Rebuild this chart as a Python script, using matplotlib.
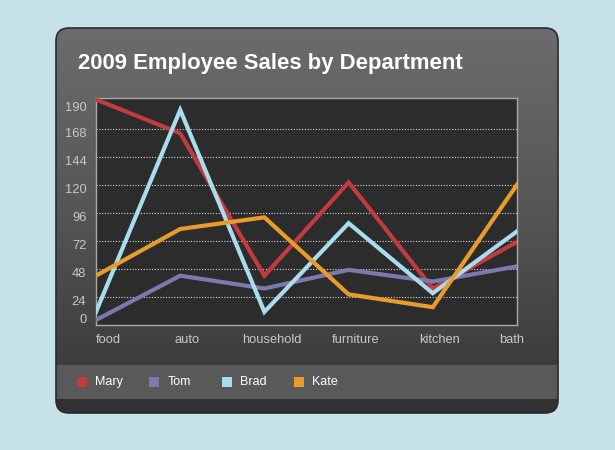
import matplotlib.pyplot as plt
import numpy as np
from matplotlib.patches import FancyBboxPatch, Rectangle
from matplotlib.colors import LinearSegmentedColormap
from matplotlib.transforms import ScaledTranslation

departments = ['food', 'auto', 'household', 'furniture', 'kitchen', 'bath']
mary = [193, 164, 42, 122, 31, 71]
tom = [4, 42, 31, 47, 37, 50]
brad = [11, 184, 11, 87, 27, 80]
kate = [42, 82, 92, 26, 15, 120]

names = ['Mary', 'Tom', 'Brad', 'Kate']
series = [mary, tom, brad, kate]
colors = ['#c23b40', '#7b79ad', '#a9dcec', '#e99b2c']
yticks = [0, 24, 48, 72, 96, 120, 144, 168, 190]

W, H = 615, 450
fig = plt.figure(figsize=(6.15, 4.5), dpi=100)
fig.patch.set_facecolor('#c6e1e8')

# card background
bg = fig.add_axes([0, 0, 1, 1])
bg.set_xlim(0, W)
bg.set_ylim(H, 0)
bg.axis('off')

card = FancyBboxPatch((56, 28), 502, 385, boxstyle='round,pad=0,rounding_size=13',
                      facecolor='none', edgecolor='#2a2a2c', linewidth=1.2, zorder=3)
bg.add_patch(card)
cmap = LinearSegmentedColormap.from_list('card', ['#6c6c6e', '#555455', '#363334'])
grad = np.linspace(0, 1, 256).reshape(-1, 1)
im = bg.imshow(grad, cmap=cmap, extent=(56, 558, 413, 28), aspect='auto', zorder=1)
im.set_clip_path(card)
band = Rectangle((56, 365), 502, 34, facecolor='#595959', edgecolor='none', zorder=2)
bg.add_patch(band)
band.set_clip_path(card)
foot = Rectangle((56, 399), 502, 15, facecolor='#323031', edgecolor='none', zorder=2)
bg.add_patch(foot)
foot.set_clip_path(card)

bg.text(78, 63, '2009 Employee Sales by Department', color='white', fontsize=15.9,
        fontweight='bold', family='Liberation Sans', va='center', ha='left', zorder=4)

# legend
for i, (n, c) in enumerate(zip(names, colors)):
    x0 = 77 + i * 72.3
    bg.add_patch(Rectangle((x0, 377), 10, 10, facecolor=c, edgecolor='none', zorder=4))
    bg.text(x0 + 18, 382, n, color='white', fontsize=9, family='Liberation Sans',
            va='center', ha='left', zorder=4)

# chart
ax = fig.add_axes([96 / W, 1 - 324.7 / H, 421 / W, 226.4 / H])
ax.set_facecolor('#2d2c2c')
x = np.arange(len(departments))
for s, c in zip(series, colors):
    ax.plot(x, s, color=c, linewidth=3, solid_joinstyle='miter', zorder=3)
for t in yticks[1:-1]:
    ax.axhline(t, color='#d8d8d8', linestyle=(0, (1, 1.5)), linewidth=0.8, zorder=1)
ax.set_xlim(0, len(departments) - 1)
ax.set_ylim(0, 194)
ax.set_yticks(yticks)
ax.set_yticklabels([str(t) for t in yticks])
ax.set_xticks(x)
ax.set_xticklabels(departments)
for sp in ax.spines.values():
    sp.set_color('#a8a8a8')
    sp.set_linewidth(1)
ax.tick_params(length=0, colors='#c8c8c8', labelsize=9.3, pad=7)
for lbl in ax.get_yticklabels() + ax.get_xticklabels():
    lbl.set_family('Liberation Sans')

# nudge labels the way the original places them
px = 1 / 72
for i, lbl in enumerate(ax.get_yticklabels()):
    dy = 4.5 if i == 0 else -2.5
    lbl.set_transform(lbl.get_transform() + ScaledTranslation(0, dy * px, fig.dpi_scale_trans))
xl = ax.get_xticklabels()
for i, lbl in enumerate(xl):
    dx = 0 if i == 0 else 5
    lbl.set_transform(lbl.get_transform() + ScaledTranslation(dx * px, 0, fig.dpi_scale_trans))
xl[0].set_ha('left')
xl[-1].set_ha('right')

fig.savefig('out.png', dpi=100, facecolor=fig.get_facecolor())
